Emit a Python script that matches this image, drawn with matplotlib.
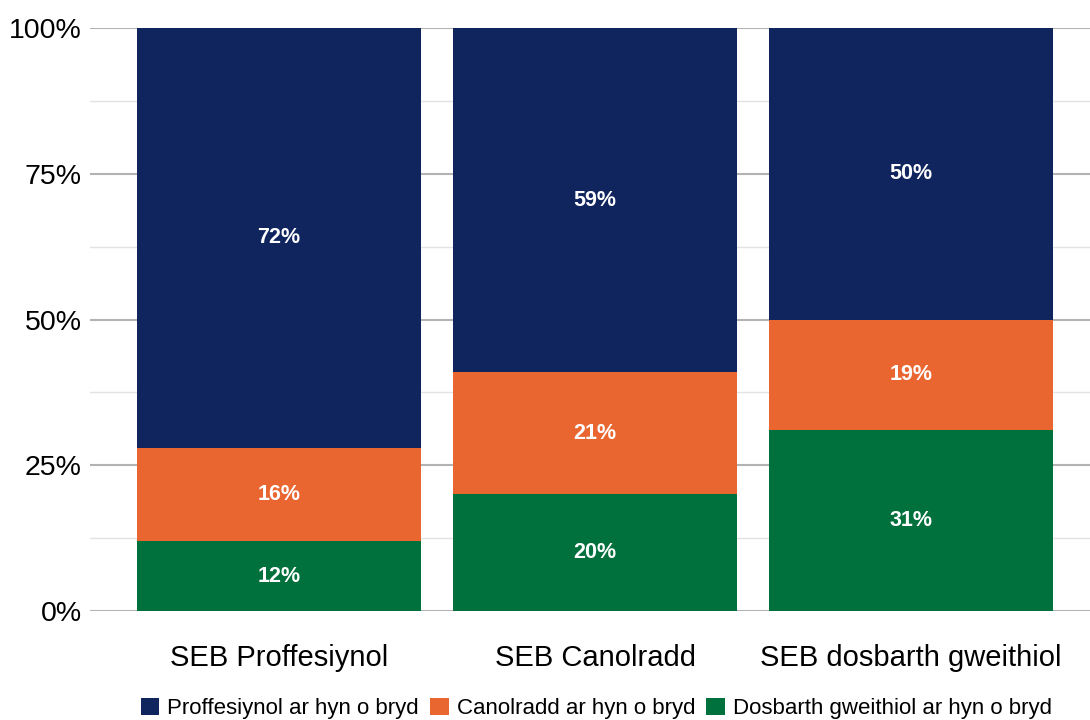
import numpy as np
import matplotlib.pyplot as plt
from matplotlib.ticker import MultipleLocator, PercentFormatter

plt.rcParams['font.family'] = ['Liberation Sans', 'DejaVu Sans']

categories = ['SEB Proffesiynol', 'SEB Canolradd', 'SEB dosbarth gweithiol']
series_names = ['Proffesiynol ar hyn o bryd', 'Canolradd ar hyn o bryd',
                'Dosbarth gweithiol ar hyn o bryd']
gweithiol = [12, 20, 31]
canolradd = [16, 21, 19]
proffesiynol = [72, 59, 50]

lliwiau = {'prof': '#10255e', 'can': '#e96631', 'gw': '#00703c'}

fig = plt.figure(figsize=(10.9, 7.2), dpi=100)
ax = fig.add_axes([0.0826, 0.1514, 0.9174, 0.8096])

x = np.arange(len(categories))
w = 0.9

# pentyrru o'r gwaelod i fyny: gweithiol, canolradd, proffesiynol
b1 = ax.bar(x, gweithiol, w, color=lliwiau['gw'], zorder=3)
b2 = ax.bar(x, canolradd, w, bottom=gweithiol, color=lliwiau['can'], zorder=3)
gwaelod = np.array(gweithiol) + np.array(canolradd)
b3 = ax.bar(x, proffesiynol, w, bottom=gwaelod, color=lliwiau['prof'], zorder=3)

for bars, vals in [(b1, gweithiol), (b2, canolradd), (b3, proffesiynol)]:
    for rect, v in zip(bars, vals):
        ax.text(rect.get_x() + rect.get_width() / 2,
                rect.get_y() + rect.get_height() / 2,
                f'{v}%', ha='center', va='center', color='white',
                fontsize=15.5, fontweight='bold', zorder=4)

ax.set_ylim(0, 100)
ax.set_xlim(-0.598, 2.566)
ax.yaxis.set_major_locator(MultipleLocator(25))
ax.yaxis.set_minor_locator(MultipleLocator(12.5))
ax.yaxis.set_major_formatter(PercentFormatter(decimals=0))
ax.grid(axis='y', which='major', color='#b3b3b3', linewidth=1.5, zorder=1)
ax.grid(axis='y', which='minor', color='#e3e3e3', linewidth=1, zorder=1)
ax.tick_params(axis='y', which='both', length=0, labelsize=20.5, pad=6)
ax.tick_params(axis='x', length=0, labelsize=21, pad=24)
ax.set_xticks(x, categories)
for s in ax.spines.values():
    s.set_visible(False)

fig.legend([b3, b2, b1], series_names, loc='center',
           bbox_to_anchor=(0.547, 0.016), ncol=3, frameon=False,
           fontsize=16, handlelength=0.85, handleheight=0.85,
           handletextpad=0.35, columnspacing=0.5, borderpad=0)

plt.savefig('out.png', dpi=100)
